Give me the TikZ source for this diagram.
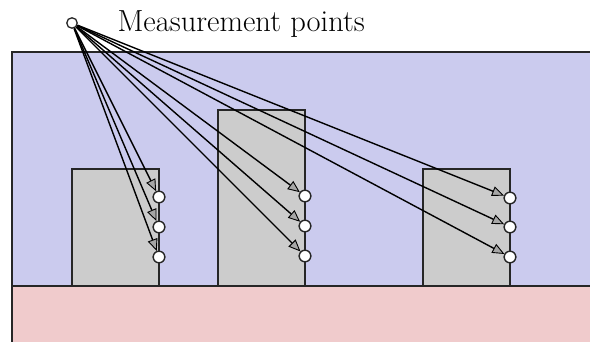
\documentclass[tikz,border=0pt]{standalone}
\usetikzlibrary{arrows.meta}

\definecolor{airblue}{RGB}{203,203,238}
\definecolor{groundpink}{RGB}{240,203,204}
\definecolor{wallgray}{RGB}{204,204,204}

\tikzset{
  region/.style={draw=black!85, line width=1.4pt},
  mpoint/.style={circle, draw=black!85, fill=white, line width=1.3pt, inner sep=0pt, minimum size=11.5pt},
  ray/.style={line width=1.4pt, -{Triangle[length=12pt, width=10pt, fill=gray!70, line width=0.9pt]}}
}

\begin{document}
\begin{tikzpicture}[x=1pt,y=-1pt]
\useasboundingbox (0,0) rectangle (590,342);
\clip (0,0) rectangle (590,342);

% Air and ground
\filldraw[region, fill=airblue] (12,52) rectangle (600,286);
\filldraw[region, fill=groundpink] (12,286) rectangle (600,360);

% Blocks
\filldraw[region, fill=wallgray] (72,169) rectangle (159,286);
\filldraw[region, fill=wallgray] (218,110) rectangle (305,286);
\filldraw[region, fill=wallgray] (423,169) rectangle (510,286);

% Source point and label
\node[mpoint, minimum size=10.5pt] (src) at (72,23) {};
\node[anchor=base west, font=\fontsize{30.5}{34}\selectfont] (lbl) at (114,32) {Measurement points};

% Measurement points on the blocks
\node[mpoint] (a1) at (159,197) {};
\node[mpoint] (a2) at (159,227) {};
\node[mpoint] (a3) at (159,257) {};
\node[mpoint] (b1) at (305,196) {};
\node[mpoint] (b2) at (305,226) {};
\node[mpoint] (b3) at (305,256) {};
\node[mpoint] (c1) at (510,198) {};
\node[mpoint] (c2) at (510,227) {};
\node[mpoint] (c3) at (510,257) {};

% Rays
\foreach \p in {a1,a2,a3,b1,b2,b3,c1,c2,c3}
  \draw[ray] (src) -- (\p);

% redraw points on top of the rays
\foreach \p in {a1,a2,a3,b1,b2,b3,c1,c2,c3}
  \node[mpoint] at (\p) {};
\end{tikzpicture}
\end{document}
